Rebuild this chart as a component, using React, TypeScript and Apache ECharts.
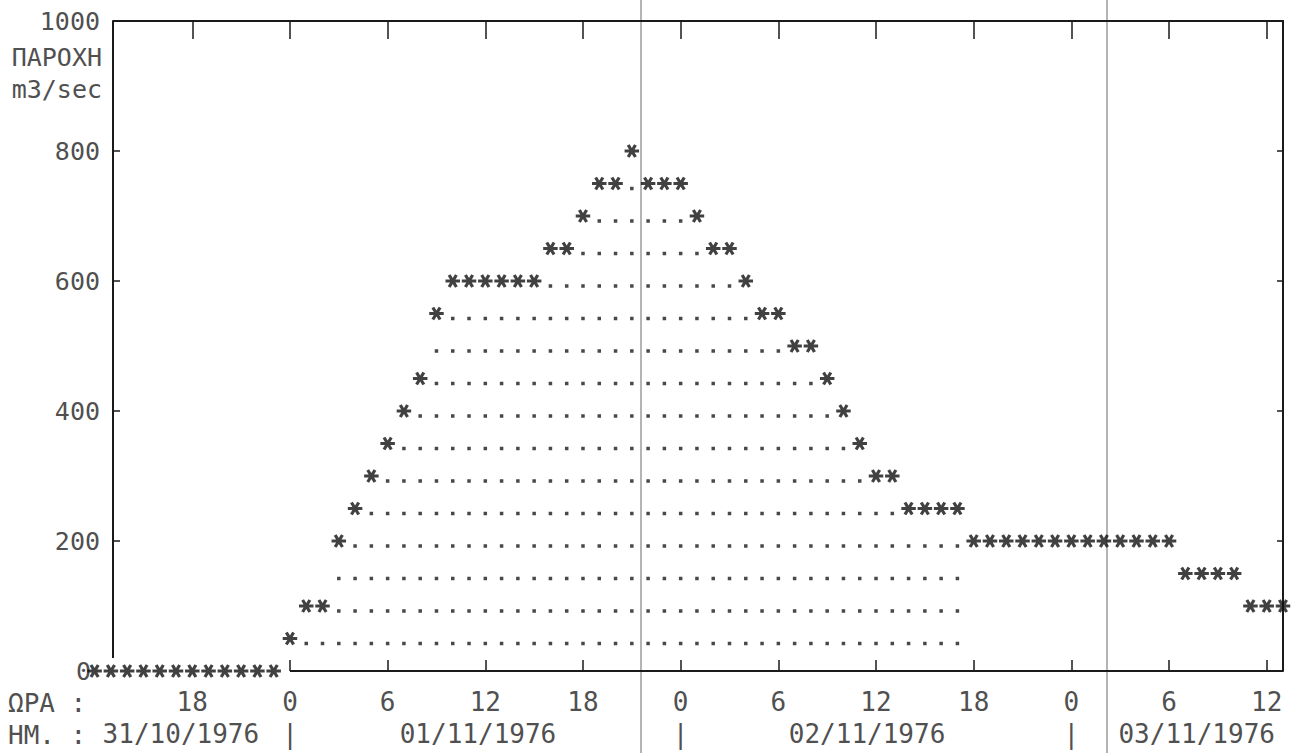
import React, { useEffect, useRef } from "react";
import * as echarts from "echarts";

// Discharge (m3/sec), hourly, starting at 31/10/1976 12:00 (hour -12 relative to 01/11/1976 00:00)
const START_HOUR = -12;
const FLOW: number[] = [
  0, 0, 0, 0, 0, 0, 0, 0, 0, 0, 0, 0,
  50, 100, 100, 200, 250, 300, 350, 400, 450, 550,
  600, 600, 600, 600, 600, 600,
  650, 650, 700, 750, 750, 800, 750, 750, 750,
  700, 650, 650, 600, 550, 550, 500, 500, 450, 400, 350, 300, 300,
  250, 250, 250, 250,
  200, 200, 200, 200, 200, 200, 200, 200, 200, 200, 200, 200, 200,
  150, 150, 150, 150,
  100, 100, 100,
];
// Last hour of the dotted (flood volume) region
const FILL_END_HOUR = 41;
const ROW_LEVELS: number[] = [50, 100, 150, 200, 250, 300, 350, 400, 450, 500, 550, 600, 650, 700, 750];

const HOUR_LABEL_TICKS: number[] = [-6, 0, 6, 12, 18, 24, 30, 36, 42, 48, 54, 60];
const HOUR_TICKS_BOTTOM: number[] = [0, 6, 12, 18, 24, 30, 36, 42, 48, 54, 60];
const DATE_LABELS: string[] = ["31/10/1976", "|", "01/11/1976", "|", "02/11/1976", "|", "03/11/1976"];
const DATE_POS: number[] = [-6.7, 0, 11.55, 24, 35.45, 48, 55.7];
const Y_LABELS: number[] = [0, 200, 400, 600, 800, 1000];
const Y_TICKS: number[] = [200, 400, 600, 800];

const XMIN = -10.87;
const XMAX = 61;
const LEFT_AXIS_BOTTOM = 20;

const FONT = "DejaVu Sans Mono";
const INK = "#1a1a1a";
const TXT = "#505050";

const STAR =
  "path://M-6,-1.3L6,-1.3L6,1.3L-6,1.3Z" +
  "M1.87,5.85L-4.13,-4.55L-1.87,-5.85L4.13,4.55Z" +
  "M-4.13,4.55L1.87,-5.85L4.13,-4.55L-1.87,5.85Z";

export default function App() {
  const ref = useRef<HTMLDivElement>(null);
  useEffect(() => {
    document.body.style.margin = "0";
    if (!ref.current) return;
    const chart = echarts.init(ref.current, undefined, { renderer: "svg" });

    const stars = FLOW.map((v, i) => [START_HOUR + i, v]);
    const dots: number[][] = [];
    ROW_LEVELS.forEach((L) => {
      FLOW.forEach((v, i) => {
        const h = START_HOUR + i;
        if (h <= FILL_END_HOUR && v > L) dots.push([h, L]);
      });
    });

    const dateMap: Record<string, string> = {};
    DATE_POS.forEach((p, i) => (dateMap[p.toFixed(2)] = DATE_LABELS[i]));

    const frameLine = { color: INK, width: 2 };

    chart.setOption({
      animation: false,
      backgroundColor: "#fff",
      grid: { left: 113, right: 18, top: 21, bottom: 82 },
      xAxis: [
        {
          type: "value",
          position: "bottom",
          min: XMIN,
          max: XMAX,
          axisLine: { show: false, onZero: false },
          splitLine: { show: false },
          axisTick: {
            show: true,
            inside: true,
            length: 11,
            customValues: HOUR_TICKS_BOTTOM,
            lineStyle: { color: INK, width: 1.5 },
          },
          axisLabel: {
            customValues: HOUR_LABEL_TICKS,
            margin: 18,
            fontFamily: FONT,
            fontSize: 26,
            color: TXT,
            formatter: (v: number) => String(((Math.round(v) % 24) + 24) % 24),
          },
        },
        {
          type: "value",
          position: "top",
          min: XMIN,
          max: XMAX,
          axisLine: { show: true, onZero: false, lineStyle: frameLine },
          splitLine: { show: false },
          axisTick: {
            show: true,
            inside: true,
            length: 18,
            customValues: HOUR_LABEL_TICKS,
            lineStyle: { color: INK, width: 1.5 },
          },
          axisLabel: { show: false },
        },
        {
          type: "value",
          position: "bottom",
          offset: 32,
          min: XMIN,
          max: XMAX,
          axisLine: { show: false, onZero: false },
          splitLine: { show: false },
          axisTick: { show: false },
          axisLabel: {
            customValues: DATE_POS,
            margin: 18,
            fontFamily: FONT,
            fontSize: 26,
            color: TXT,
            formatter: (v: number) => dateMap[v.toFixed(2)] ?? "",
          },
        },
      ],
      yAxis: [
        {
          type: "value",
          position: "left",
          min: 0,
          max: 1000,
          axisLine: { show: false, onZero: false },
          splitLine: { show: false },
          axisTick: {
            show: true,
            inside: true,
            length: 7,
            customValues: Y_TICKS,
            lineStyle: { color: INK, width: 1.5 },
          },
          axisLabel: {
            customValues: Y_LABELS,
            margin: 13,
            fontFamily: FONT,
            fontSize: 25,
            color: TXT,
            formatter: (v: number) => (v === 0 ? "{z|0}" : String(v)),
            rich: {
              z: { padding: [0, 9, 0, 0], fontFamily: FONT, fontSize: 25, color: TXT },
            },
          },
        },
        {
          type: "value",
          position: "right",
          min: 0,
          max: 1000,
          axisLine: { show: true, onZero: false, lineStyle: frameLine },
          splitLine: { show: false },
          axisTick: {
            show: true,
            inside: true,
            length: 6,
            customValues: Y_TICKS,
            lineStyle: { color: INK, width: 1.5 },
          },
          axisLabel: { show: false },
        },
      ],
      graphic: [
        { type: "line", z: 0, shape: { x1: 641, y1: 0, x2: 641, y2: 753 }, style: { stroke: "#b4b4b4", lineWidth: 2 } },
        { type: "line", z: 0, shape: { x1: 1107, y1: 0, x2: 1107, y2: 753 }, style: { stroke: "#b4b4b4", lineWidth: 2 } },
        { type: "text", x: 102, y: 57, style: { text: "ΠΑΡΟΧΗ", align: "right", verticalAlign: "middle", fontFamily: FONT, fontSize: 25, fill: TXT } },
        { type: "text", x: 102, y: 89, style: { text: "m3/sec", align: "right", verticalAlign: "middle", fontFamily: FONT, fontSize: 25, fill: TXT } },
        { type: "text", x: 8, y: 703, style: { text: "ΩΡΑ :", verticalAlign: "middle", fontFamily: FONT, fontSize: 26, fill: TXT } },
        { type: "text", x: 8, y: 735, style: { text: "ΗΜ. :", verticalAlign: "middle", fontFamily: FONT, fontSize: 26, fill: TXT } },
      ],
      series: [
        {
          name: "bottomAxis",
          type: "line",
          xAxisIndex: 0,
          yAxisIndex: 0,
          clip: false,
          data: [[0, 0], [XMAX, 0]],
          symbol: "none",
          lineStyle: frameLine,
          silent: true,
        },
        {
          name: "leftAxis",
          type: "line",
          xAxisIndex: 0,
          yAxisIndex: 0,
          clip: false,
          data: [[XMIN, 1000], [XMIN, LEFT_AXIS_BOTTOM]],
          symbol: "none",
          lineStyle: frameLine,
          silent: true,
        },
        {
          name: "dots",
          type: "scatter",
          xAxisIndex: 0,
          yAxisIndex: 0,
          data: dots,
          symbol: "rect",
          symbolSize: 3.5,
          symbolOffset: [0, 5],
          itemStyle: { color: INK },
          silent: true,
        },
        {
          name: "ΠΑΡΟΧΗ",
          type: "scatter",
          xAxisIndex: 0,
          yAxisIndex: 0,
          clip: false,
          data: stars,
          symbol: STAR,
          symbolSize: [14.5, 13.5],
          itemStyle: { color: "#111" },
          silent: true,
        },
      ],
    });
    return () => chart.dispose();
  }, []);
  return <div ref={ref} style={{ width: 1301, height: 753 }} />;
}
